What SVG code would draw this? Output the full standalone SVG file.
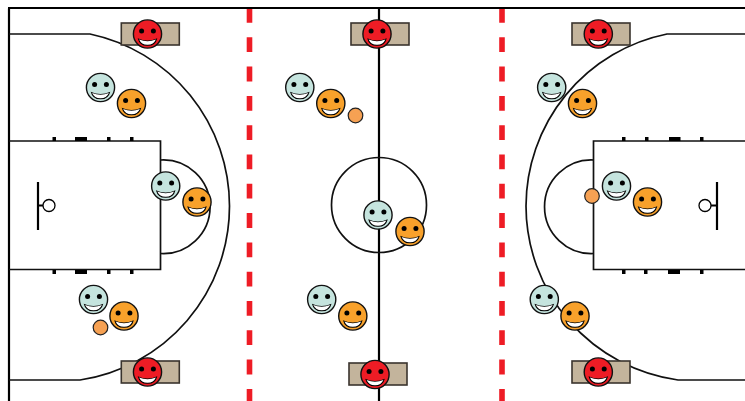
<svg xmlns="http://www.w3.org/2000/svg" width="745" height="401" viewBox="0 0 745 401">
<style>
.court{fill:none;stroke:#111;stroke-width:1.7}
.solid{fill:none;stroke:#000;stroke-width:2.2}
.tick{fill:#000}
.dash{fill:none;stroke:#ee1c25;stroke-width:5.6;stroke-dasharray:14.8 14.5;stroke-dashoffset:0}
.board{fill:#c3b49c;stroke:#3a342e;stroke-width:1.6}
.mint{fill:#c5e4de}
.orange{fill:#f8a12b}
.red{fill:#ee1c25}
.ball{fill:#f6a153;stroke:#222;stroke-width:1.2}
.hoop{fill:#fff;stroke:#000;stroke-width:1.3}
</style>
<defs>
<g id="face">
<circle r="14.1" stroke="#111" stroke-width="1.4"/>
<circle cx="-5.9" cy="-3" r="2.5" fill="#000"/>
<circle cx="5.9" cy="-3" r="2.5" fill="#000"/>
<path d="M-9.800,4.200Q0,8.600 9.800,4.200Q8,12 0,11.800Q-8,12 -9.800,4.200Z" fill="#000"/>
<path d="M-8.400,5.400Q0,9 8.400,5.400Q6,10.800 0,10.700Q-6,10.800 -8.400,5.400Z" fill="#fff"/>
</g>
</defs>
<rect width="745" height="401" fill="#fff"/>
<g id="connectors">
<path class="dash" d="M249.5,8V401"/>
<path class="dash" d="M502,8V401"/>
<path class="solid" d="M9,401V8.500"/>
<path class="solid" d="M8,8H745"/>
<path class="solid" d="M379,8V401"/>
<path class="court" d="M9,34H90A176,176 0 0 1 229.500,206A176,176 0 0 1 80,380H9"/>
<path class="court" d="M9,141H160.500V269.500H9"/>
<path class="court" d="M160.500,160A46.830,46.830 0 1 1 160.500,253.500"/>
<path class="solid" d="M38,182V230M38,205.500H43"/>
<path class="tick" d="M52.500,137h3.500v4h-3.500zM75,137h12v4h-12zM107,137h3.500v4h-3.500zM130,137h3.500v4h-3.500zM52.500,270h3.500v4h-3.500zM75,270h12v4h-12zM107,270h3.500v4h-3.500zM130,270h3.500v4h-3.500z"/>
<path class="court" d="M745,34H667A176,176 0 0 0 526,206A176,176 0 0 0 678,380H745"/>
<path class="court" d="M745,141H593.500V269.500H745"/>
<path class="court" d="M593.500,160A46.800,46.800 0 1 0 593.500,253.500"/>
<path class="solid" d="M717,182V230M717,205.500H711"/>
<path class="tick" d="M622,137h3.500v4h-3.500zM645,137h3.500v4h-3.500zM669,137h11.500v4h-11.500zM700,137h3.500v4h-3.500zM622,270h3.500v4h-3.500zM644,270h3.500v4h-3.500zM668,270h12v4h-12zM700,270h3.500v4h-3.500z"/>
<circle class="court" cx="379" cy="205" r="47.500"/>
</g>
<g id="hoop-left"><circle class="hoop" cx="49" cy="205.500" r="6"/></g>
<g id="hoop-right"><circle class="hoop" cx="705" cy="205.500" r="6"/></g>
<g id="board-1"><rect class="board" x="121.300" y="23" width="58" height="22"/></g>
<g id="board-2"><rect class="board" x="121.300" y="361" width="58" height="22"/></g>
<g id="board-3"><rect class="board" x="351" y="23" width="58" height="22"/></g>
<g id="board-4"><rect class="board" x="349" y="363" width="58" height="22"/></g>
<g id="board-5"><rect class="board" x="572" y="23" width="58" height="22"/></g>
<g id="board-6"><rect class="board" x="572" y="361" width="58" height="22"/></g>
<g id="referee-1"><use href="#face" class="red" transform="translate(147.500,34)"/></g>
<g id="referee-2"><use href="#face" class="red" transform="translate(147.500,372)"/></g>
<g id="referee-3"><use href="#face" class="red" transform="translate(377,34)"/></g>
<g id="referee-4"><use href="#face" class="red" transform="translate(375,374.500)"/></g>
<g id="referee-5"><use href="#face" class="red" transform="translate(598.300,34)"/></g>
<g id="referee-6"><use href="#face" class="red" transform="translate(598.300,372)"/></g>
<g id="mint-1"><use href="#face" class="mint" transform="translate(100.500,87.500)"/></g>
<g id="orange-1"><use href="#face" class="orange" transform="translate(131.500,103.500)"/></g>
<g id="mint-2"><use href="#face" class="mint" transform="translate(93.500,299.500)"/></g>
<g id="orange-2"><use href="#face" class="orange" transform="translate(124,316)"/></g>
<g id="ball-1"><circle class="ball" cx="100.500" cy="327.500" r="7.300"/></g>
<g id="mint-3"><use href="#face" class="mint" transform="translate(165.700,186)"/></g>
<g id="orange-3"><use href="#face" class="orange" transform="translate(197,202)"/></g>
<g id="mint-4"><use href="#face" class="mint" transform="translate(299.800,87.500)"/></g>
<g id="orange-4"><use href="#face" class="orange" transform="translate(330.800,103.500)"/></g>
<g id="ball-2"><circle class="ball" cx="355.500" cy="115.500" r="7.300"/></g>
<g id="mint-5"><use href="#face" class="mint" transform="translate(378,215)"/></g>
<g id="orange-5"><use href="#face" class="orange" transform="translate(410,231.500)"/></g>
<g id="mint-6"><use href="#face" class="mint" transform="translate(321.700,299.500)"/></g>
<g id="orange-6"><use href="#face" class="orange" transform="translate(352.800,316)"/></g>
<g id="mint-7"><use href="#face" class="mint" transform="translate(551.700,87.500)"/></g>
<g id="orange-7"><use href="#face" class="orange" transform="translate(582.500,103.500)"/></g>
<g id="mint-8"><use href="#face" class="mint" transform="translate(616.500,186)"/></g>
<g id="orange-8"><use href="#face" class="orange" transform="translate(647.500,202)"/></g>
<g id="ball-3"><circle class="ball" cx="592" cy="196" r="7.300"/></g>
<g id="mint-9"><use href="#face" class="mint" transform="translate(544.300,299.500)"/></g>
<g id="orange-9"><use href="#face" class="orange" transform="translate(575,316)"/></g>
</svg>
